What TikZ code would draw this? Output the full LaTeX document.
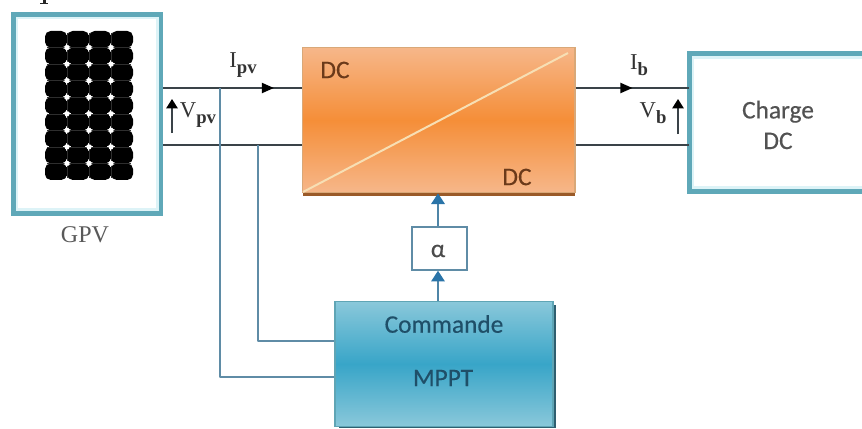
\documentclass[tikz,border=0pt]{standalone}
\usepackage{fontspec}
\setmainfont{Liberation Serif}
\newfontfamily\labelfont[FakeBold=0.35]{Carlito}
\usetikzlibrary{arrows.meta,decorations.markings,calc}
\definecolor{framec}{HTML}{5FA8B8}
\definecolor{glowc}{HTML}{DDF3F7}
\definecolor{wirec}{HTML}{3A4348}
\definecolor{sensec}{HTML}{5F8CA6}
\definecolor{ctrlc}{HTML}{2A74A8}
\definecolor{orlight}{HTML}{F6B78A}
\definecolor{ormid}{HTML}{F58E38}
\definecolor{oredge}{HTML}{D9A878}
\definecolor{orbase}{HTML}{9A5A28}
\definecolor{orline}{HTML}{F7DFB4}
\definecolor{dctext}{HTML}{6B3A1A}
\definecolor{bllight}{HTML}{8AC8DA}
\definecolor{blmid}{HTML}{38A5C8}
\definecolor{bledge}{HTML}{5FA5B5}
\definecolor{blshadow}{HTML}{2F5F70}
\definecolor{bltext}{HTML}{1F4F68}
\tikzset{
  x=0.75pt,y=-0.75pt,
  framebox/.style={draw=framec,line width=3.75pt,fill=white,inner sep=0pt},
  wire/.style={draw=wirec,line width=1.5pt},
  sense/.style={draw=sensec,line width=1.5pt,line join=round},
  ctrl/.style={draw=sensec!70!ctrlc,line width=1.5pt,-{Triangle[length=8pt,width=10pt,color=ctrlc]}},
  volt/.style={draw=wirec,line width=1.2pt,-{Triangle[length=7pt,width=8.5pt,color=black]}},
  iarrow/.style={postaction={decorate},decoration={markings,mark=at position #1 with {\arrow{Triangle[length=9pt,width=7.5pt,color=black]}}}},
  serlab/.style={inner sep=0pt,text=black!80,font=\fontsize{17}{20}\selectfont},
  sanslab/.style={inner sep=0pt,font=\labelfont\fontsize{19}{23}\selectfont},
  cell/.style={fill=black,draw=none,rounded corners=4.2pt}
}
\newcommand{\subb}[1]{\raisebox{-0.28em}{\fontsize{14}{16}\selectfont\bfseries #1}}
\begin{document}
\begin{tikzpicture}
\useasboundingbox (0,0) rectangle (862,428);
\fill[white] (0,0) rectangle (862,428);
% fragment of a cut-off text line
\fill[black!85] (43,0) rectangle (45.5,3.5);
\fill[black!85] (40,3) rectangle (48,4.5);
% named heights of the two power lines
\coordinate (ytop) at (0,88);
\coordinate (ybot) at (0,145);
\coordinate (ys1) at (0,340.5);
\coordinate (ys2) at (0,377);
\coordinate (xs1) at (258,0);
\coordinate (xs2) at (220,0);
% GPV
\node[framebox,minimum width=110.6pt,minimum height=149.6pt] (gpv) at (87.25,113.75) {};
\draw[glowc,line width=1.6pt] (17,18) rectangle (157.5,209.5);
\foreach \c in {0,1,2,3}{
  \foreach \r in {0,...,8}{
  \path[cell] ({45+22*\c},{31+16.55*\r}) rectangle ({45+22*(\c+1)},{31+16.55*(\r+1)});
}}
\foreach \c in {0,1,2,3}{\fill[black] ({45+22*\c+4},32) rectangle ({45+22*\c+18},179);}
\foreach \r in {0,...,8}{\fill[black] (46,{31+16.55*\r+4}) rectangle (132,{31+16.55*\r+12.5});}
\foreach \c in {1,2,3}{\draw[black!82,line width=0.3pt] ({45+22*\c},33) -- ({45+22*\c},178);}
\foreach \r in {1,...,8}{\draw[black!82,line width=0.3pt] (47,{31+16.55*\r}) -- (131,{31+16.55*\r});}
\foreach \c in {1,2,3}{\foreach \r in {1,...,8}{
  \fill[white] ({45+22*\c},{31+16.55*\r}) circle[radius=1.9pt];
}}
\node[serlab,text=black!65,font=\fontsize{18}{20}\selectfont] (gpvlab) at (85,235) {GPV};
% converter
\node[draw=oredge,line width=1pt,minimum width=204.5pt,minimum height=109pt,inner sep=0pt,
      top color=orlight,bottom color=orlight,middle color=ormid] (conv) at (438.5,120) {};
\draw[orline,line width=1.5pt] (303,192) -- (568,53);
\fill[orbase] (303,193) rectangle (575,196);
\node[sanslab,text=dctext] (dc1) at (335,70) {DC};
\node[sanslab,text=dctext] (dc2) at (517,177) {DC};
% load
\node[inner sep=0pt,minimum width=129.5pt,minimum height=103pt] (charge) at (776,122.5) {};
\draw[glowc,line width=1.6pt] (862,57.5) -- (693,57.5) -- (693,187.5) -- (862,187.5);
\draw[framec,line width=3.75pt] (charge.north east) -- (charge.north west) -- (charge.south west) -- (charge.south east);
\node[sanslab,text=black!68,align=center] (chargelab) at (778,125) {Charge\\DC};
% alpha
\node[draw=sensec,line width=1.3pt,fill=white,minimum width=41.5pt,minimum height=32pt,inner sep=0pt] (alpha) at (439.5,248.5) {};
\node[inner sep=0pt,text=black!70,font=\labelfont\fontsize{19}{22}\selectfont] (alphalab) at (438,251) {α};
% MPPT
\fill[blshadow] (339,305) rectangle (556,428);
\node[draw=bledge,line width=0.8pt,minimum width=163.5pt,minimum height=94pt,inner sep=0pt,
      top color=bllight,bottom color=bllight,middle color=blmid] (mppt) at (444,364) {};
\node[sanslab,text=bltext] (cmd) at (444,324) {Commande};
\node[sanslab,text=bltext] (mp) at (443,378) {MPPT};
% power wires
\draw[wire,iarrow=0.80] (gpv.east |- ytop) -- (conv.west |- ytop);
\draw[wire] (gpv.east |- ybot) -- (conv.west |- ybot);
\draw[wire,iarrow=0.50] (conv.east |- ytop) -- (charge.west |- ytop);
\draw[wire] (conv.east |- ybot) -- (charge.west |- ybot);
% sensing wires
\draw[sense] (xs2 |- ytop) -- (xs2 |- ys2) -- (mppt.west |- ys2);
\draw[sense] (xs1 |- ybot) -- (xs1 |- ys1) -- (mppt.west |- ys1);
% control
\draw[ctrl] (mppt.north -| alphalab) -- (alpha.south -| alphalab);
\draw[ctrl] (alpha.north -| alphalab) -- (conv.south -| alphalab);
% voltage arrows
\coordinate (vp1) at (172,133);
\coordinate (vp2) at (172,99);
\coordinate (vb1) at (678,134);
\coordinate (vb2) at (678,99);
\draw[volt] (vp1) -- (vp2);
\draw[volt] (vb1) -- (vb2);
% labels
\node[serlab] (ipv) at (243,65) {I\subb{pv}};
\node[serlab] (vpv) at (198,115) {V\subb{pv}};
\node[serlab] (ib) at (639,65) {I\subb{b}};
\node[serlab] (vb) at (653,113) {V\subb{b}};
\end{tikzpicture}
\end{document}
